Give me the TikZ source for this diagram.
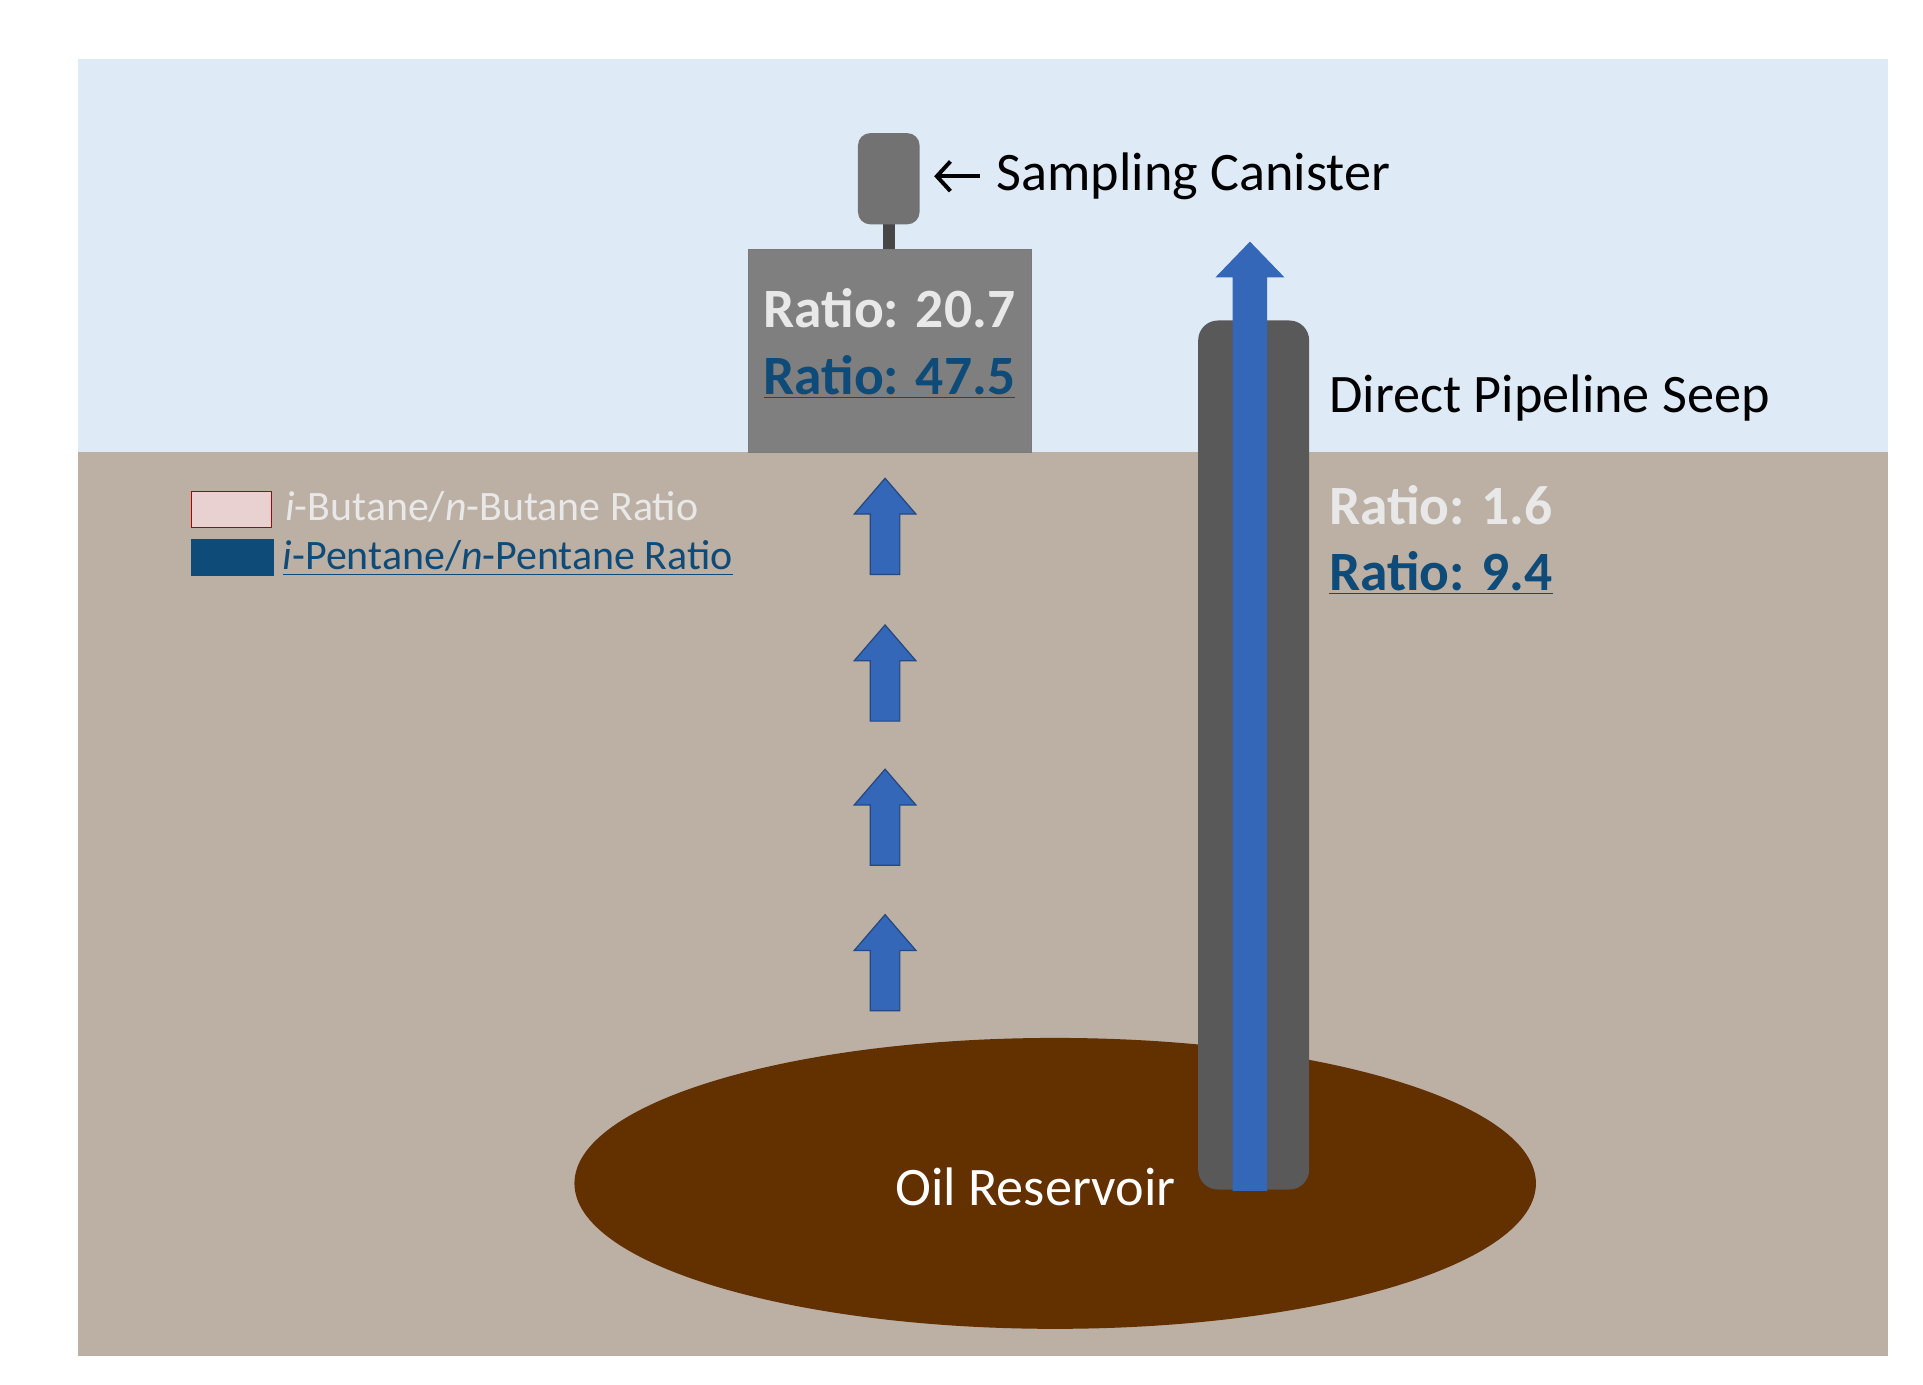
\documentclass[tikz,border=0pt]{standalone}
\usepackage{fontspec}
\setmainfont{Carlito}
\definecolor{sky}{RGB}{222,234,246}
\definecolor{ground}{RGB}{188,176,164}
\definecolor{oil}{RGB}{99,48,0}
\definecolor{boxgray}{RGB}{127,127,127}
\definecolor{pipe}{RGB}{89,89,89}
\definecolor{flow}{RGB}{52,103,184}
\definecolor{dblue}{RGB}{14,75,120}
\definecolor{lgray}{RGB}{232,232,232}
\begin{document}
\begin{tikzpicture}[x=0.5pt,y=-0.5pt,
  ratio/.style={font=\fontsize{22.5}{26}\selectfont\bfseries, anchor=west, inner sep=0pt},
  lbl/.style={font=\fontsize{22}{26}\selectfont, anchor=west, inner sep=0pt},
  pics/up/.style={code={\filldraw[fill=flow, draw=flow!70!black, line width=0.5pt] (-12,39) -- (-12,-10) -- (-25,-10) -- (0,-39) -- (25,-10) -- (12,-10) -- (12,39) -- cycle;}}]
\useasboundingbox (0,0) rectangle (1560,1123);
\fill[white] (0,0) rectangle (1560,1123);
\fill[sky] (63,48) rectangle (1532,367);
\fill[ground] (63,367) rectangle (1532,1100);
\fill[oil] (856,960) ellipse [x radius=390, y radius=118];
\node[font=\fontsize{22}{26}\selectfont, text=white, inner sep=0pt] (oilt) at (840,963) {Oil Reservoir};
% canister
\fill[pipe!80!black] (716,180) rectangle (726,203);
\node[fill=boxgray!90!black, rounded corners=5pt, minimum width=25pt, minimum height=37pt, inner sep=0pt] (can) at (721,145) {};
\node[draw=pipe!80, fill=boxgray, minimum width=115pt, minimum height=82.5pt, inner sep=0pt] (box) at (722,284.5) {};
\node[ratio, text=lgray] (r1) at (619,250) {Ratio: 20.7};
\node[ratio, text=dblue] (r2) at (619,306) {\underline{Ratio: 47.5}};
\coordinate (ah) at (760,143);
\draw[line width=1.6pt] (795,143) -- (ah);
\draw[line width=1.6pt] (771,131) -- (ah) -- (771,155);
\node[lbl] (sc) at (808,143) {Sampling Canister};
% pipe
\node[fill=pipe, rounded corners=8pt, minimum width=45pt, minimum height=352.5pt, inner sep=0pt] (p) at (1017,612.5) {};
\fill[flow] (1000,966) -- (1000,225) -- (986,225) -- (1014,196) -- (1042,225) -- (1028,225) -- (1028,966) -- cycle;
\node[lbl] (dps) at (1078,323) {Direct Pipeline Seep};
\node[ratio, text=lgray] (r3) at (1078,410) {Ratio: 1.6};
\node[ratio, text=dblue] (r4) at (1078,465) {\underline{Ratio: 9.4}};
% small arrows
\foreach \y in {427,546,663,781}
  \pic at (718,\y) {up};
% legend
\node[draw=red!70!black, fill=lgray!90!red, minimum width=32.5pt, minimum height=14.5pt, inner sep=0pt] (lg1) at (188,413.5) {};
\node[fill=dblue, minimum width=33.5pt, minimum height=15pt, inner sep=0pt] (lg2) at (188.5,452) {};
\node[font=\fontsize{17}{20}\selectfont, text=lgray, anchor=west, inner sep=0pt] (lt1) at (231,411) {\textit{i}-Butane/\textit{n}-Butane Ratio};
\node[font=\fontsize{17}{20}\selectfont, text=dblue, anchor=west, inner sep=0pt] (lt2) at (229,453) {\underline{\textit{i}-Pentane/\textit{n}-Pentane Ratio}};
\end{tikzpicture}
\end{document}
